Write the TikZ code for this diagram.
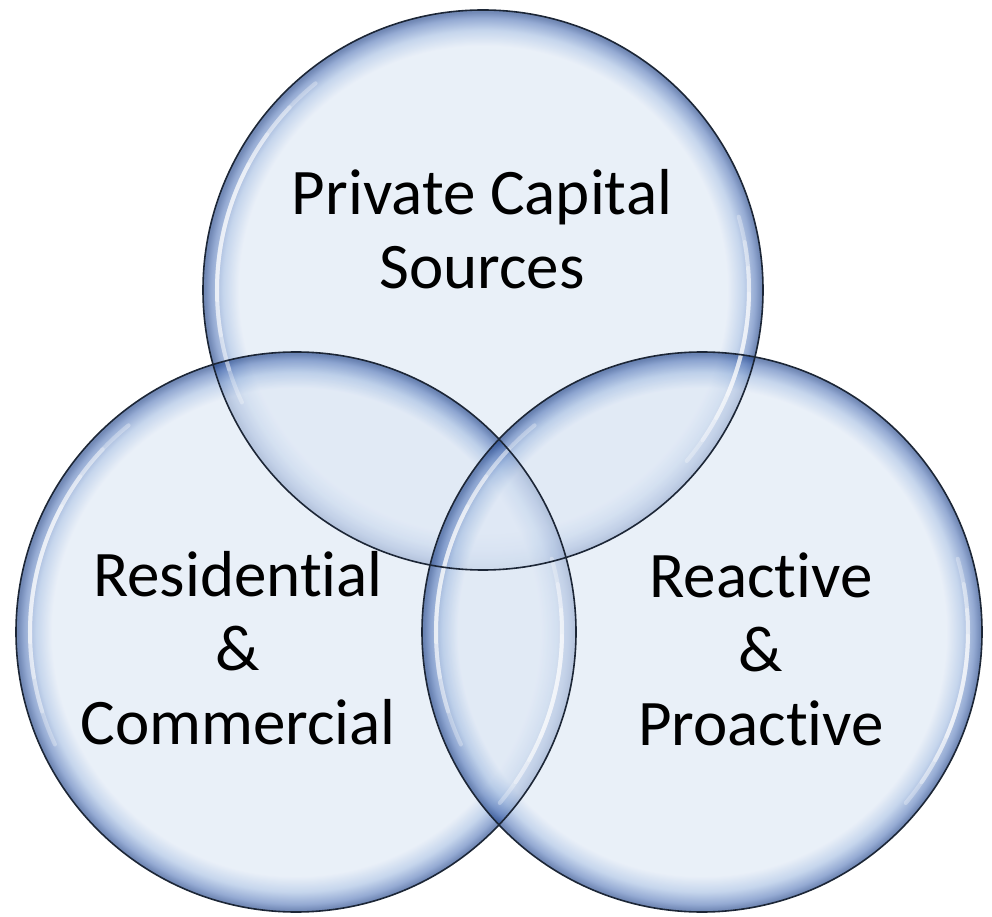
\documentclass[tikz,border=0pt]{standalone}
\usepackage{fontspec}
\setmainfont[Ligatures={NoCommon,NoRare,NoContextual}]{Carlito}
\usetikzlibrary{calc}

% bubble colours (painted at partial opacity over white)
\definecolor{bubin}{RGB}{221,231,244}
\definecolor{bubmid}{RGB}{165,190,226}
\definecolor{bubrim}{RGB}{88,122,186}
\definecolor{bubedge}{RGB}{34,70,140}
\definecolor{rimline}{RGB}{28,38,54}

\pgfdeclareradialshading{bubble}{\pgfpoint{0bp}{0bp}}{%
  color(0bp)=(bubin); color(21.8bp)=(bubin); color(23.2bp)=(bubmid);
  color(24.3bp)=(bubrim); color(24.85bp)=(bubedge); color(25bp)=(bubedge);
  color(50bp)=(bubedge)}

\tikzset{
  bubblefill/.style={shading=bubble, fill opacity=0.64},
  bubbleline/.style={draw=rimline, line width=1.6pt},
  glint/.style={draw=white, line width=4pt, line cap=round, opacity=0.3},
  label/.style={align=center, inner sep=0pt, font=\fontsize{65}{74}\selectfont}
}

% separate t and i so the font does not join them
\newcommand{\septi}{t\kern0pt i}

% soft white reflection along the inside of a bubble
\newcommand{\glintarc}[3]{% centre, middle angle, half span
  \foreach \f in {1,0.8,0.6,0.4}{
    \draw[glint] (#1) ++({#2-#3*\f}:266) arc[start angle={#2-#3*\f}, end angle={#2+#3*\f}, radius=266];
  }}

\begin{document}
\begin{tikzpicture}[x=1pt,y=1pt]
  \useasboundingbox (0,0) rectangle (992,916);

  \coordinate (T) at (483,626);
  \coordinate (L) at (296,284);
  \coordinate (R) at (702,284);

  % translucent bubbles
  \foreach \c in {T,L,R}{
    \shade[bubblefill] (\c) circle[radius=280];
  }

  % reflections
  \foreach \c in {T,L,R}{
    \glintarc{\c}{167}{38}
    \glintarc{\c}{-12}{28}
  }

  % outlines
  \foreach \c in {T,L,R}{
    \draw[bubbleline] (\c) circle[radius=280];
  }

  \node[label] (tlabel) at (482,687) {Private Capital\\Sources};
  \node[label] (llabel) at (238,268) {Residen\septi al\\\&\\Commercial};
  \node[label] (rlabel) at (761,267) {Reac\septi ve\\\&\\Proac\septi ve};
\end{tikzpicture}
\end{document}
